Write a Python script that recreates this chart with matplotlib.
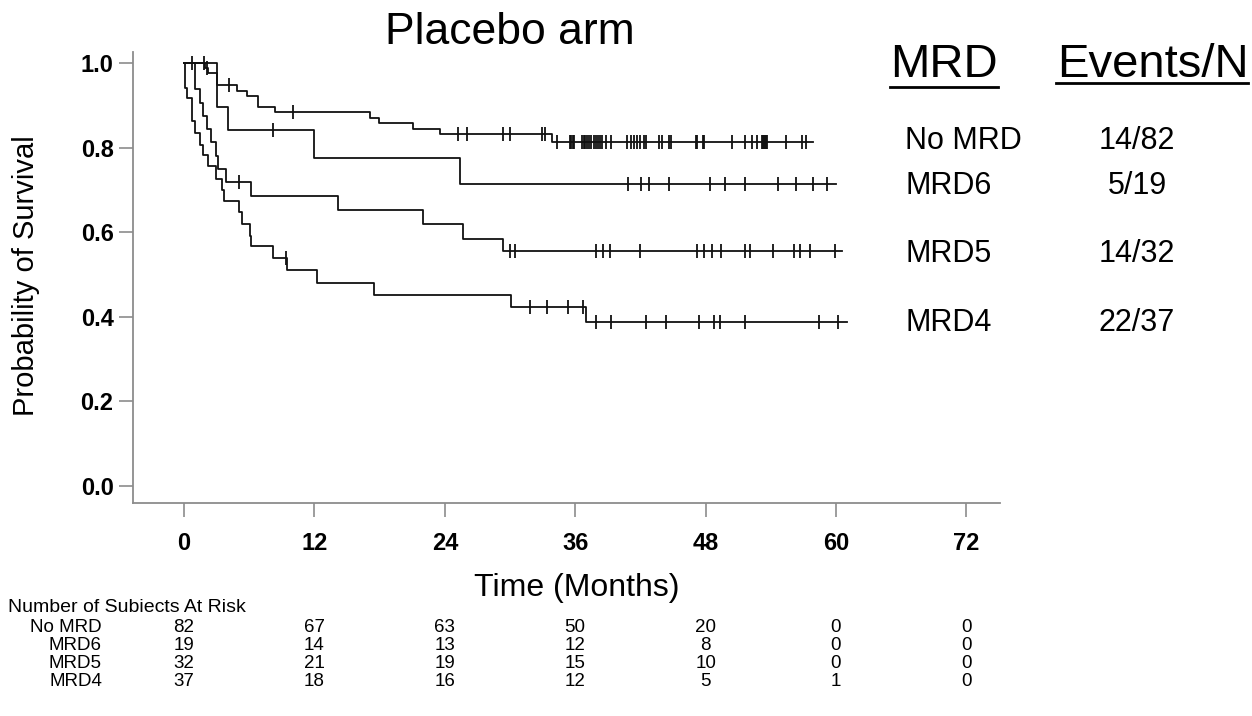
import matplotlib.pyplot as plt
from matplotlib.lines import Line2D
import numpy as np

plt.rcParams['font.family'] = ['Liberation Sans', 'DejaVu Sans']

# x ticks and at-risk table
month_ticks = [0, 12, 24, 36, 48, 60, 72]
group_names = ['No MRD', 'MRD6', 'MRD5', 'MRD4']
risk_no_mrd = [82, 67, 63, 50, 20, 0, 0]
risk_mrd6 = [19, 14, 13, 12, 8, 0, 0]
risk_mrd5 = [32, 21, 19, 15, 10, 0, 0]
risk_mrd4 = [37, 18, 16, 12, 5, 1, 0]
events_n = ['14/82', '5/19', '14/32', '22/37']

# Kaplan-Meier steps: event time (months), survival after it
no_mrd_t = [1.9, 2.2, 3.0, 4.9, 5.8, 6.8, 8.4, 17.1, 17.9, 21.1, 23.6, 33.9]
no_mrd_s = [0.988, 0.976, 0.947, 0.935, 0.922, 0.897, 0.885, 0.870, 0.858, 0.845, 0.832, 0.814]
no_mrd_end = 57.9
no_mrd_cens = [0.7, 1.8, 2.1, 4.1, 10.0, 25.2, 26.0, 29.4, 30.0, 32.9, 33.2, 34.3,
               35.5, 35.6, 35.8, 35.9, 36.6, 36.8, 36.9, 37.1, 37.3, 37.5, 37.7, 37.9,
               38.1, 38.3, 38.5, 38.8, 39.3, 40.8, 41.1, 41.4, 41.7, 42.0, 42.3, 42.5,
               43.7, 44.0, 44.6, 44.8, 47.1, 47.2, 47.8, 47.9, 50.4, 51.6, 52.3, 52.7,
               53.2, 53.3, 53.4, 53.5, 53.6, 53.7, 55.4, 56.9, 57.2]

mrd6_t = [3.0, 4.0, 12.0, 25.4]
mrd6_s = [0.895, 0.842, 0.776, 0.714]
mrd6_end = 60.0
mrd6_cens = [8.2, 40.9, 42.1, 42.8, 44.6, 48.4, 49.8, 51.6, 54.7, 56.3, 57.9, 59.2]

mrd5_t = [1.0, 1.5, 1.7, 2.1, 2.5, 2.9, 3.1, 3.9, 6.2, 14.2, 22.0, 25.7, 29.4]
mrd5_s = [0.938, 0.906, 0.875, 0.844, 0.813, 0.781, 0.750, 0.719, 0.686, 0.653, 0.620, 0.585, 0.555]
mrd5_end = 60.6
mrd5_cens = [5.1, 30.0, 30.5, 37.9, 38.6, 39.2, 42.0, 47.2, 47.9, 48.6, 49.4, 51.6,
             52.1, 54.2, 56.1, 56.7, 57.6, 59.9]

mrd4_t = [0.1, 0.3, 0.7, 1.0, 1.5, 1.7, 2.2, 2.9, 3.5, 3.7, 5.1, 5.3, 6.1, 6.2, 8.2,
          9.5, 12.2, 17.5, 30.1, 37.0]
mrd4_s = [0.940, 0.917, 0.864, 0.835, 0.806, 0.782, 0.757, 0.726, 0.701, 0.674, 0.648,
          0.619, 0.591, 0.567, 0.538, 0.511, 0.481, 0.452, 0.424, 0.387]
mrd4_end = 61.0
mrd4_cens = [9.4, 31.8, 33.4, 35.3, 36.7, 37.9, 39.3, 42.5, 44.4, 47.4, 48.8, 49.3,
             51.6, 58.4, 60.2]

W, H = 1252, 716
fig = plt.figure(figsize=(W / 100, H / 100), dpi=100)
ax = fig.add_axes([133 / W, 1 - 503 / H, 867 / W, 451 / H])
ax.set_xlim(-4.7, 75.1)
ax.set_ylim(-0.040, 1.026)

line_col = '#111111'
curves = [(no_mrd_t, no_mrd_s, no_mrd_end, no_mrd_cens),
          (mrd6_t, mrd6_s, mrd6_end, mrd6_cens),
          (mrd5_t, mrd5_s, mrd5_end, mrd5_cens),
          (mrd4_t, mrd4_s, mrd4_end, mrd4_cens)]
for T, S, End, Cens in curves:
    tt = np.array([0] + T + [End])
    ss = np.array([1.0] + S + [S[-1]])
    ax.step(tt, ss, where='post', color=line_col, lw=1.3)
    idx = np.searchsorted(tt, Cens, side='right') - 1
    ax.plot(Cens, ss[idx], ls='none', marker='|', ms=10, mew=1.3, color=line_col)

spine_col = '#8c8c8c'
for s in ['top', 'right']:
    ax.spines[s].set_visible(False)
for s in ['left', 'bottom']:
    ax.spines[s].set_color(spine_col)
    ax.spines[s].set_linewidth(1.3)
ax.set_xticks(month_ticks)
ax.set_yticks([0.0, 0.2, 0.4, 0.6, 0.8, 1.0])
ax.set_yticklabels(['0.0', '0.2', '0.4', '0.6', '0.8', '1.0'])
ax.tick_params(axis='both', colors=spine_col, length=10, width=1.2, labelcolor='black',
               labelsize=17)
ax.tick_params(axis='x', pad=11)
ax.tick_params(axis='y', pad=4)
for lab in ax.get_xticklabels() + ax.get_yticklabels():
    lab.set_fontweight('bold')

fig.text(510 / W, 1 - 32 / H, 'Placebo arm', fontsize=32, ha='center', va='center')
fig.text(26 / W, 1 - 276 / H, 'Probability of Survival', fontsize=21, rotation=90,
         ha='center', va='center')
fig.text(577 / W, 1 - 588 / H, 'Time (Months)', fontsize=23, ha='center', va='center')

# right-hand legend
fig.text(890 / W, 1 - 77 / H, 'MRD', fontsize=34, ha='left', va='baseline')
fig.text(1057 / W, 1 - 77 / H, 'Events/N', fontsize=34, ha='left', va='baseline')
fig.add_artist(Line2D([890 / W, 998 / W], [1 - 87 / H] * 2, color='black', lw=2))
fig.add_artist(Line2D([1056 / W, 1248 / W], [1 - 83 / H] * 2, color='black', lw=2))
legend_y = [141, 186, 254, 323]
for name, ev, ly in zip(group_names, events_n, legend_y):
    fig.text(905 / W, 1 - ly / H, name, fontsize=22, ha='left', va='center')
    fig.text(1137 / W, 1 - ly / H, ev, fontsize=22, ha='center', va='center')

# number at risk table
fig.text(8 / W, 1 - 607 / H, 'Number of Subiects At Risk', fontsize=14, ha='left',
         va='center')
row_y = [628, 646, 664, 682]
risk_rows = [risk_no_mrd, risk_mrd6, risk_mrd5, risk_mrd4]
for name, ry, vals in zip(group_names, row_y, risk_rows):
    fig.text(102 / W, 1 - ry / H, name, fontsize=13.5, ha='right', va='center')
    for m, v in zip(month_ticks, vals):
        xf = (133 + (m + 4.7) / 79.8 * 867) / W
        fig.text(xf, 1 - ry / H, str(v), fontsize=13.5, ha='center', va='center')

fig.savefig('out.png', dpi=100)
